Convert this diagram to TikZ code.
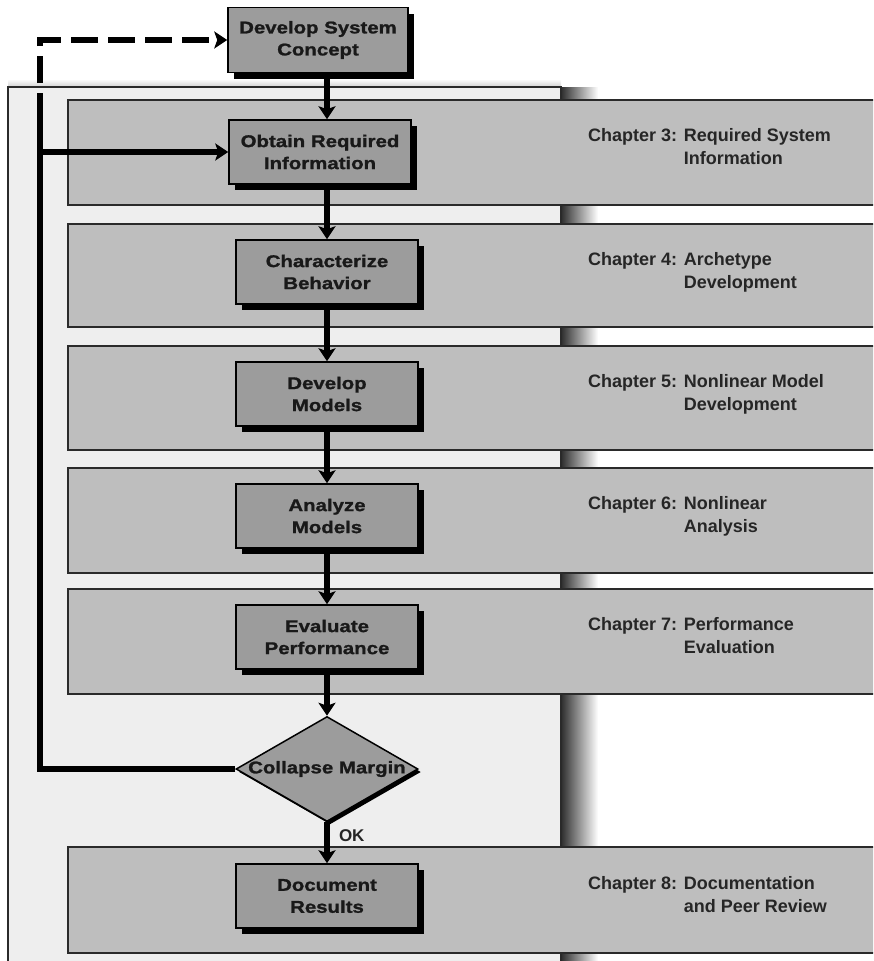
\documentclass[tikz,border=0pt]{standalone}
\usepackage{fontspec}
\setmainfont{Liberation Sans}
\newfontfamily\boxfont[FakeStretch=1.2,BoldFeatures={FakeBold=1.3}]{Liberation Sans}
\usetikzlibrary{arrows.meta,shapes.geometric,shadows}
\definecolor{panelc}{HTML}{EEEEEE}
\definecolor{bandc}{HTML}{BEBEBE}
\definecolor{boxc}{HTML}{9C9C9C}
\definecolor{edgec}{HTML}{2A2A2A}
\begin{document}
\begin{tikzpicture}[x=1pt,y=-1pt,
  bandbox/.style={draw=edgec,line width=1.3pt,fill=bandc},
  procbox/.style={draw=black,line width=1.5pt,fill=boxc,minimum width=182pt,minimum height=64pt,
    align=center,inner sep=0pt,text=black!90,font=\boxfont\bfseries\fontsize{17pt}{22pt}\selectfont,
    drop shadow={shadow xshift=6pt,shadow yshift=-6pt,fill=black,opacity=1}},
  decbox/.style={diamond,draw=black,line width=1.5pt,fill=boxc,minimum width=182pt,minimum height=105pt,
    aspect=1.73,inner sep=0pt,
    drop shadow={shadow xshift=3pt,shadow yshift=-3pt,fill=black,opacity=1}},
  chaptext/.style={anchor=west,inner sep=0pt,text=black!85,font=\bfseries\fontsize{18pt}{23pt}\selectfont},
  flowarrow/.style={line width=6pt,-{Stealth[length=13pt,width=17pt,inset=3pt]}},
  flowline/.style={line width=6pt,line join=miter},
  dashline/.style={line width=6pt,dash pattern=on 27pt off 10pt,-{Stealth[length=13pt,width=17pt,inset=3pt]}}
]
\useasboundingbox (0,0) rectangle (873,961);
\clip (0,0) rectangle (873,961);
% background panel
\shade[top color=white,bottom color=black!18] (8,79) rectangle (561,87);
\fill[panelc] (8,87) rectangle (561,975);
\draw[edgec,line width=1.3pt] (8,975) -- (8,87) -- (561,87) -- (561,975);
\shade[left color=black!80,right color=white] (562,87) rectangle (598,961);
% bands
\foreach \ya/\yb in {100/205,224/327,346/450,468/573,589/694,847/953}
  \draw[bandbox] (68,\ya) rectangle (885,\yb);
% process boxes
\node[procbox,minimum width=180pt,minimum height=65pt] (dsc) at (318,40) {Develop System\\Concept};
\node[procbox] (ori) at (320,152) {Obtain Required\\Information};
\node[procbox] (cb) at (327,272) {Characterize\\Behavior};
\node[procbox] (dm) at (327,394) {Develop\\Models};
\node[procbox] (am) at (327,516) {Analyze\\Models};
\node[procbox] (ep) at (327,637) {Evaluate\\Performance};
\node[decbox,label={[text=black!90,font=\boxfont\bfseries\fontsize{17pt}{22pt}\selectfont]center:Collapse Margin}] (cm) at (327,769) {};
\node[procbox] (dr) at (327,896) {Document\\Results};
% chapter texts
\node[chaptext] (c3) at (588,148) {\begin{tabular}{@{}l@{ }l@{}}Chapter 3:&Required System\\&Information\end{tabular}};
\node[chaptext] (c4) at (588,272) {\begin{tabular}{@{}l@{ }l@{}}Chapter 4:&Archetype\\&Development\end{tabular}};
\node[chaptext] (c5) at (588,394) {\begin{tabular}{@{}l@{ }l@{}}Chapter 5:&Nonlinear Model\\&Development\end{tabular}};
\node[chaptext] (c6) at (588,516) {\begin{tabular}{@{}l@{ }l@{}}Chapter 6:&Nonlinear\\&Analysis\end{tabular}};
\node[chaptext] (c7) at (588,637) {\begin{tabular}{@{}l@{ }l@{}}Chapter 7:&Performance\\&Evaluation\end{tabular}};
\node[chaptext] (c8) at (588,896) {\begin{tabular}{@{}l@{ }l@{}}Chapter 8:&Documentation\\&and Peer Review\end{tabular}};
% connectors
\coordinate (fb) at (40,120);
\draw[flowarrow] (dsc.south -| cb.north) -- (ori.north -| cb.north);
\draw[flowarrow] (ori.south -| cb.north) -- (cb.north);
\draw[flowarrow] (cb.south) -- (dm.north);
\draw[flowarrow] (dm.south) -- (am.north);
\draw[flowarrow] (am.south) -- (ep.north);
\draw[flowarrow] (ep.south) -- (cm.north);
\draw[flowarrow] (cm.south) -- node[pos=0.33,anchor=west,xshift=9pt,inner sep=0pt,text=black!85,font=\bfseries\fontsize{17pt}{20pt}\selectfont] {OK} (dr.north);
\draw[flowline] (cm.west) -- (cm.west -| fb) -- (fb);
\draw[flowarrow] (ori.west -| fb) -- (ori.west);
\draw[dashline] (fb) -- (fb |- dsc.west) -- (dsc.west);
\end{tikzpicture}
\end{document}
